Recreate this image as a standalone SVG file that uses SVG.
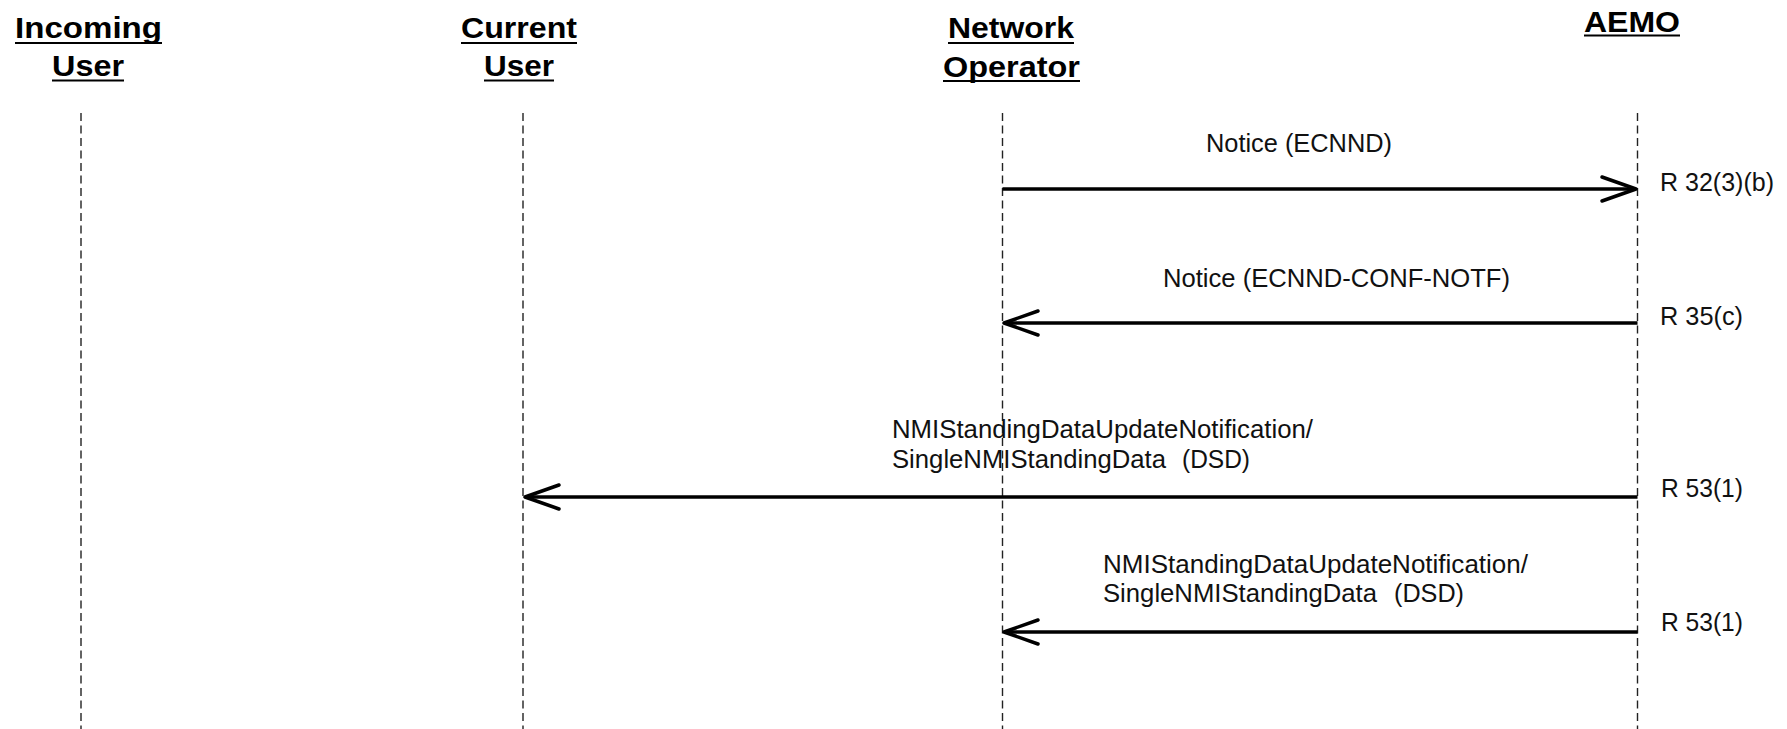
<svg xmlns="http://www.w3.org/2000/svg" width="1787" height="729" viewBox="0 0 1787 729">
  <style>
    .hdr { font-family: "Liberation Sans", Arial, sans-serif; font-weight: bold; font-size: 29px; fill: #000; }
    .ul { stroke: #000; stroke-width: 2; }
    .life { stroke: #222; stroke-width: 1.4; stroke-dasharray: 8 4.5; fill: none; }
    .msg { stroke: #000; stroke-width: 3.4; fill: none; }
    .lbl { font-family: "Liberation Sans", Arial, sans-serif; font-size: 25px; fill: #111; }
  </style>
  <defs>
    <marker id="open" viewBox="0 0 40 30" refX="37" refY="15" markerWidth="40" markerHeight="30" markerUnits="userSpaceOnUse" orient="auto">
      <path d="M3 3 L37 15 L3 27" fill="none" stroke="#000" stroke-width="3.5" stroke-linejoin="round" stroke-linecap="round"/>
    </marker>
  </defs>
  <rect width="1787" height="729" fill="#fff"/>

  <g id="incoming-user">
    <text class="hdr" x="15" y="38" textLength="147" lengthAdjust="spacingAndGlyphs">Incoming</text>
    <line class="ul" x1="15" y1="43" x2="162" y2="43"/>
    <text class="hdr" x="52" y="76" textLength="72" lengthAdjust="spacingAndGlyphs">User</text>
    <line class="ul" x1="52" y1="80.5" x2="124" y2="80.5"/>
    <line class="life" x1="81" y1="113" x2="81" y2="729"/>
  </g>

  <g id="current-user">
    <text class="hdr" x="461" y="38" textLength="116" lengthAdjust="spacingAndGlyphs">Current</text>
    <line class="ul" x1="461" y1="43" x2="577" y2="43"/>
    <text class="hdr" x="484" y="76" textLength="70" lengthAdjust="spacingAndGlyphs">User</text>
    <line class="ul" x1="484" y1="80.5" x2="554" y2="80.5"/>
    <line class="life" x1="523" y1="113" x2="523" y2="729"/>
  </g>

  <g id="network-operator">
    <text class="hdr" x="948" y="38" textLength="126" lengthAdjust="spacingAndGlyphs">Network</text>
    <line class="ul" x1="948" y1="43" x2="1074" y2="43"/>
    <text class="hdr" x="943" y="77" textLength="137" lengthAdjust="spacingAndGlyphs">Operator</text>
    <line class="ul" x1="943" y1="81" x2="1080" y2="81"/>
    <line class="life" x1="1002.5" y1="113" x2="1002.5" y2="729"/>
  </g>

  <g id="aemo">
    <text class="hdr" x="1584" y="32" textLength="96" lengthAdjust="spacingAndGlyphs">AEMO</text>
    <line class="ul" x1="1584" y1="35.5" x2="1680" y2="35.5"/>
    <line class="life" x1="1637.5" y1="113" x2="1637.5" y2="729"/>
  </g>

  <g id="connectors">
    <line class="msg" x1="1002.5" y1="189" x2="1636" y2="189" marker-end="url(#open)"/>
    <line class="msg" x1="1637.5" y1="323" x2="1004" y2="323" marker-end="url(#open)"/>
    <line class="msg" x1="1637.5" y1="497" x2="525" y2="497" marker-end="url(#open)"/>
    <line class="msg" x1="1637.5" y1="632" x2="1004" y2="632" marker-end="url(#open)"/>
  </g>

  <g id="labels">
    <text class="lbl" x="1206" y="152" textLength="186" lengthAdjust="spacingAndGlyphs">Notice (ECNND)</text>
    <text class="lbl" x="1660" y="191" textLength="114" lengthAdjust="spacingAndGlyphs">R 32(3)(b)</text>

    <text class="lbl" x="1163" y="287" textLength="347" lengthAdjust="spacingAndGlyphs">Notice (ECNND-CONF-NOTF)</text>
    <text class="lbl" x="1660" y="325" textLength="83" lengthAdjust="spacingAndGlyphs">R 35(c)</text>

    <text class="lbl" x="892" y="438" textLength="421" lengthAdjust="spacingAndGlyphs">NMIStandingDataUpdateNotification/</text>
    <text class="lbl" x="892" y="468" textLength="274" lengthAdjust="spacingAndGlyphs">SingleNMIStandingData</text>
    <text class="lbl" x="1182" y="468" textLength="68" lengthAdjust="spacingAndGlyphs">(DSD)</text>
    <text class="lbl" x="1661" y="497" textLength="82" lengthAdjust="spacingAndGlyphs">R 53(1)</text>

    <text class="lbl" x="1103" y="573" textLength="425" lengthAdjust="spacingAndGlyphs">NMIStandingDataUpdateNotification/</text>
    <text class="lbl" x="1103" y="602" textLength="274" lengthAdjust="spacingAndGlyphs">SingleNMIStandingData</text>
    <text class="lbl" x="1394" y="602" textLength="70" lengthAdjust="spacingAndGlyphs">(DSD)</text>
    <text class="lbl" x="1661" y="631" textLength="82" lengthAdjust="spacingAndGlyphs">R 53(1)</text>
  </g>
</svg>
